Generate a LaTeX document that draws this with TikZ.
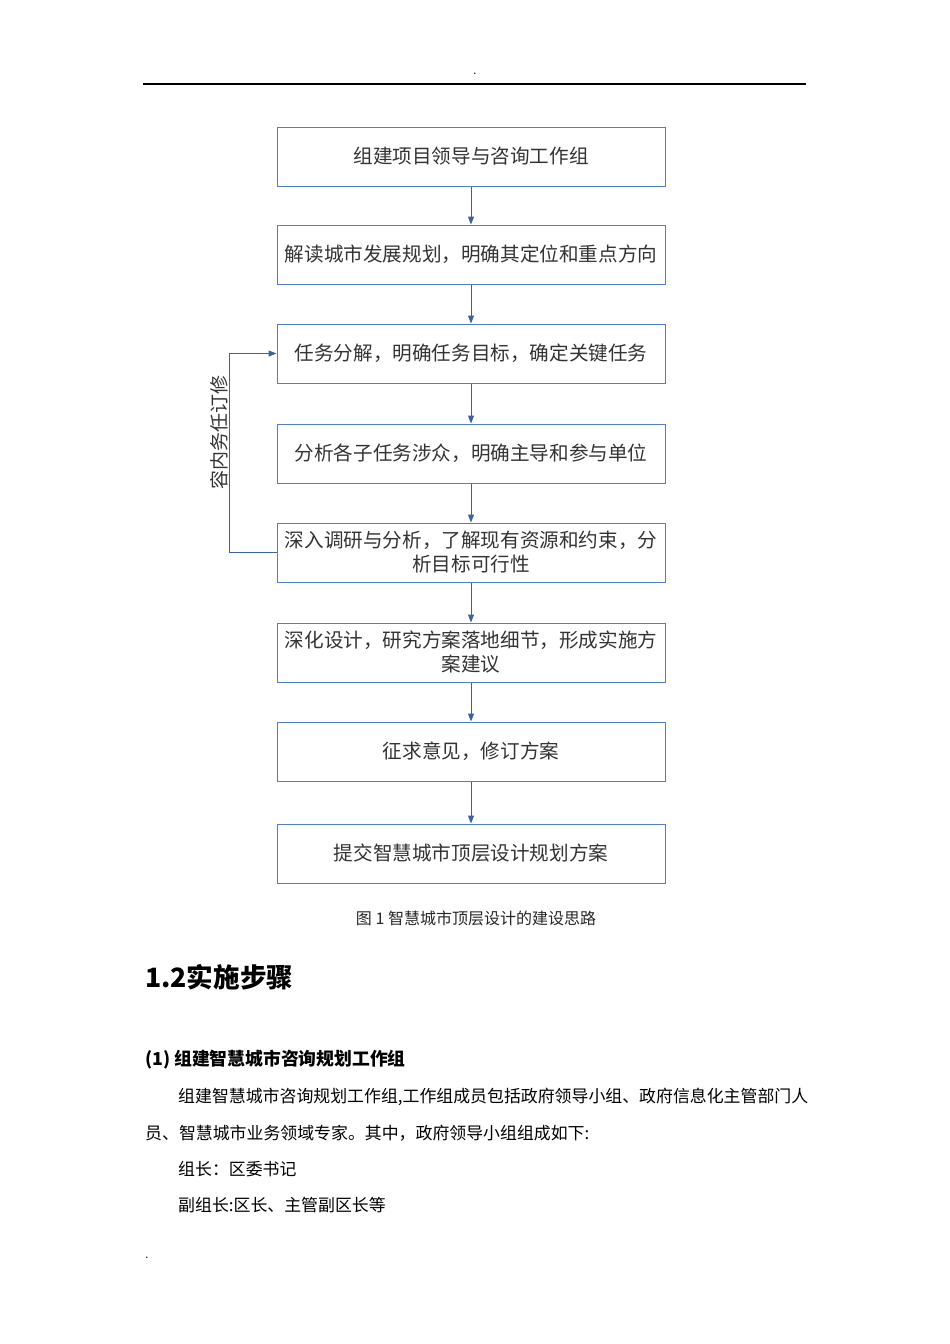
\documentclass[tikz,border=0pt]{standalone}
\usepackage{fontspec}
\setmainfont{Noto Sans CJK SC}
\usetikzlibrary{arrows.meta}
\definecolor{boxblue}{RGB}{79,129,189}
\definecolor{arrblue}{RGB}{58,98,160}
\begin{document}
\begin{tikzpicture}[x=1pt,y=-1pt,
  stepbox/.style={draw=boxblue, line width=1pt, minimum width=388pt, minimum height=59pt,
    inner sep=0pt, align=center, font=\fontsize{19.6}{24}\selectfont, text=black!80},
  flow/.style={draw=arrblue, line width=1pt, -{Triangle[length=8pt,width=6pt]}},
  bodytext/.style={anchor=west, inner sep=0pt, font=\fontsize{16.9}{20}\selectfont, text=black},
  dotmark/.style={inner sep=0pt, font=\fontsize{11}{11}\selectfont}]
\useasboundingbox[fill=white] (0,0) rectangle (950,1344);
% header
\node[dotmark] (topdot) at (475,74) {.};
\coordinate (hl) at (143,84);
\coordinate (hr) at (806,84);
\draw[line width=1.4pt] (hl) -- (hr);
% boxes
\node[stepbox] (b1) at (471,156.5) {组建项目领导与咨询工作组};
\node[stepbox] (b2) at (471,254.5) {解读城市发展规划，明确其定位和重点方向};
\node[stepbox] (b3) at (471,353.5) {任务分解，明确任务目标，确定关键任务};
\node[stepbox] (b4) at (471,453.5) {分析各子任务涉众，明确主导和参与单位};
\node[stepbox] (b5) at (471,552.5) {深入调研与分析，了解现有资源和约束，分\\析目标可行性};
\node[stepbox] (b6) at (471,652.5) {深化设计，研究方案落地细节，形成实施方\\案建议};
\node[stepbox] (b7) at (471,751.5) {征求意见，修订方案};
\node[stepbox] (b8) at (471,853.5) {提交智慧城市顶层设计规划方案};
\draw[flow] (b1) -- (b2);
\draw[flow] (b2) -- (b3);
\draw[flow] (b3) -- (b4);
\draw[flow] (b4) -- (b5);
\draw[flow] (b5) -- (b6);
\draw[flow] (b6) -- (b7);
\draw[flow] (b7) -- (b8);
\coordinate (fb) at (229,552.5);
\draw[flow] (b5.west) -- (fb) |- (b3.west);
\node[rotate=90, inner sep=0pt, font=\fontsize{19}{19}\selectfont, text=black!80] (fbl) at (219,432) {容内务任订修};
% caption
\node[inner sep=0pt, font=\fontsize{16}{18}\selectfont, text=black!85] (cap) at (476,918) {图 1 智慧城市顶层设计的建设思路};
% heading
\node[anchor=west, inner sep=0pt, font=\fontsize{26.6}{30}\selectfont\bfseries] (h) at (145,977) {1.2实施步骤};
\node[anchor=west, inner sep=0pt, font=\fontsize{17.8}{20}\selectfont\bfseries] (sh) at (145,1060) {(1) 组建智慧城市咨询规划工作组};
\node[bodytext] (l1) at (178,1097) {组建智慧城市咨询规划工作组,工作组成员包括政府领导小组、政府信息化主管部门人};
\node[bodytext] (l2) at (145,1133) {员、智慧城市业务领域专家。其中，政府领导小组组成如下:};
\node[bodytext] (l3) at (178,1169) {组长：区委书记};
\node[bodytext] (l4) at (178,1205) {副组长:区长、主管副区长等};
\node[dotmark] (botdot) at (147,1258) {.};
\end{tikzpicture}
\end{document}
